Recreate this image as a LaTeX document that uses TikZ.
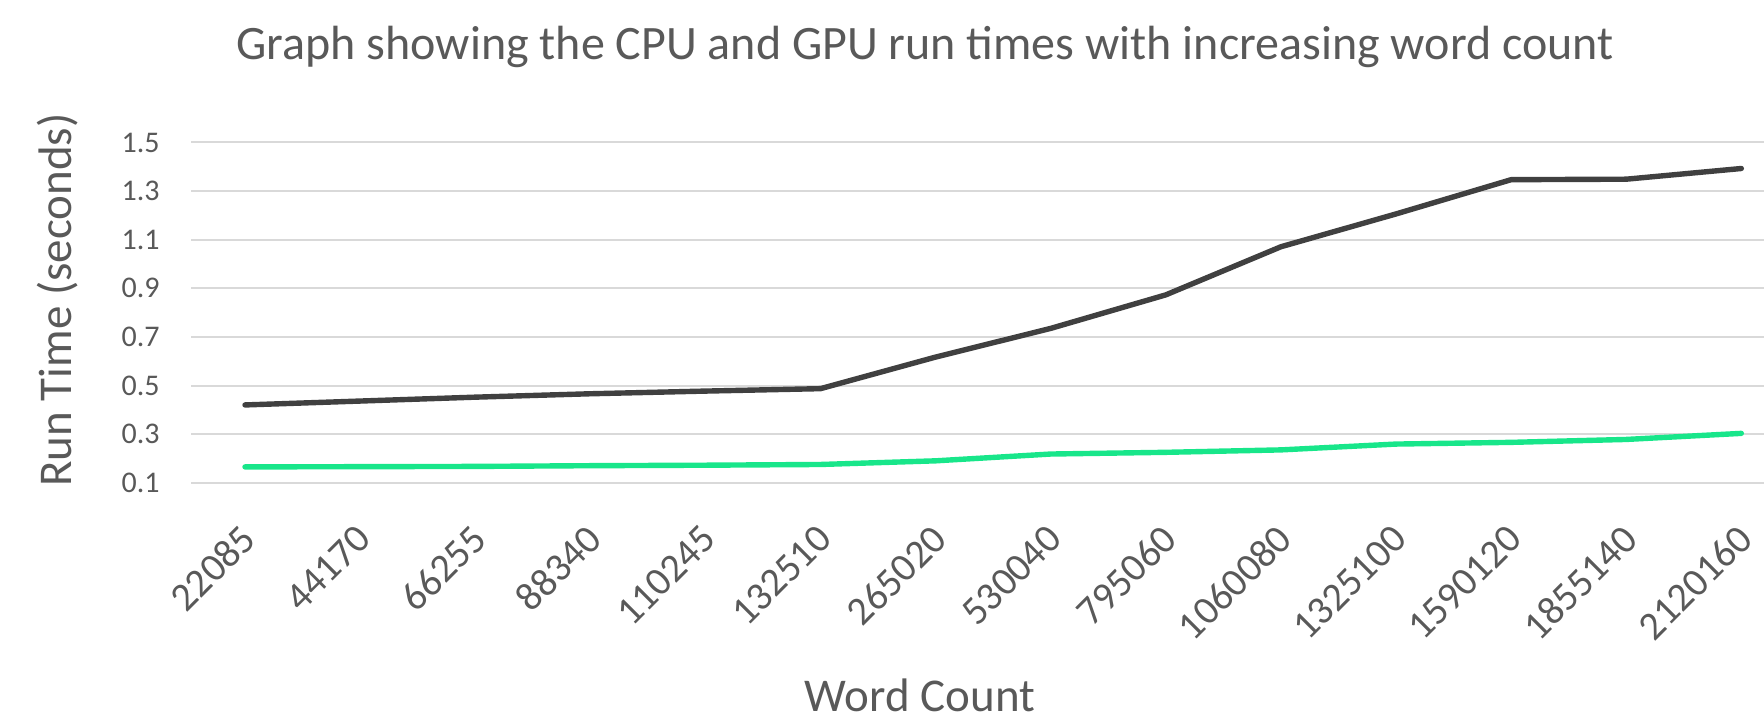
\documentclass[tikz,border=0pt]{standalone}
\usepackage{fontspec}
\setmainfont{Carlito}
\usepackage{xcolor}
\usepackage{tikz}
\usetikzlibrary{positioning}

\definecolor{textgray}{RGB}{89,89,89}
\definecolor{gridgray}{RGB}{217,217,217}
\definecolor{cpugray}{RGB}{64,64,64}
\definecolor{gpugreen}{RGB}{24,230,138}

\begin{document}
\begin{tikzpicture}[x=0.5pt,y=0.5pt,
	gridline/.style={gridgray,line width=1pt},
	titletext/.style={text=textgray,font=\fontsize{23.5}{28}\selectfont,inner sep=0pt},
	ytick/.style={text=textgray,font=\fontsize{15}{18}\selectfont,inner sep=0pt,anchor=east},
	xtick/.style={text=textgray,font=\fontsize{20}{24}\selectfont,inner sep=0pt,anchor=east,rotate=45},
	cpuline/.style={cpugray,line width=2.7pt,line cap=round,line join=round},
	gpuline/.style={gpugreen,line width=2.7pt,line cap=round,line join=round}]
	\useasboundingbox (0,0) rectangle (1764,724);
	% title and axis titles
	\node[titletext,font=\fontsize{24}{28}\selectfont,anchor=base] (title) at (925,664) {Graph showing the CPU and GPU run times with increasing word count};
	\node[titletext,rotate=90] (ytitle) at (58,424) {Run Time (seconds)};
	\node[titletext,anchor=base] (xtitle) at (920,13) {Word Count};
	% grid and value labels
	\foreach \lab [count=\k from 0] in {0.1,0.3,0.5,0.7,0.9,1.1,1.3,1.5} {
		\draw[gridline] (191,241.3+48.6*\k) -- (1764,241.3+48.6*\k);
		\node[ytick] (ytick\k) at (160,241.3+48.6*\k) {\lab};
	}
	% word counts
	\foreach \w [count=\k from 0] in {22085,44170,66255,88340,110245,132510,265020,530040,795060,1060080,1325100,1590120,1855140,2120160}
		\node[xtick] (xtick\k) at ({249+115.1*\k},192) {\w};
	% run times
	\begin{scope}[shift={(245,217)},x=57.55pt,y=121.5pt]
		\draw[gpuline] (0,0.165) -- (1,0.166) -- (2,0.167) -- (3,0.170) -- (4,0.172) -- (5,0.175) -- (6,0.190)
			-- (7,0.218) -- (8,0.225) -- (9,0.235) -- (10,0.259) -- (11,0.266) -- (12,0.278) -- (13,0.303);
		\draw[cpuline] (0,0.420) -- (1,0.436) -- (2,0.452) -- (3,0.466) -- (4,0.477) -- (5,0.487) -- (6,0.617)
			-- (7,0.735) -- (8,0.873) -- (9,1.071) -- (10,1.206) -- (11,1.347) -- (12,1.349) -- (13,1.393);
	\end{scope}
\end{tikzpicture}
\end{document}
